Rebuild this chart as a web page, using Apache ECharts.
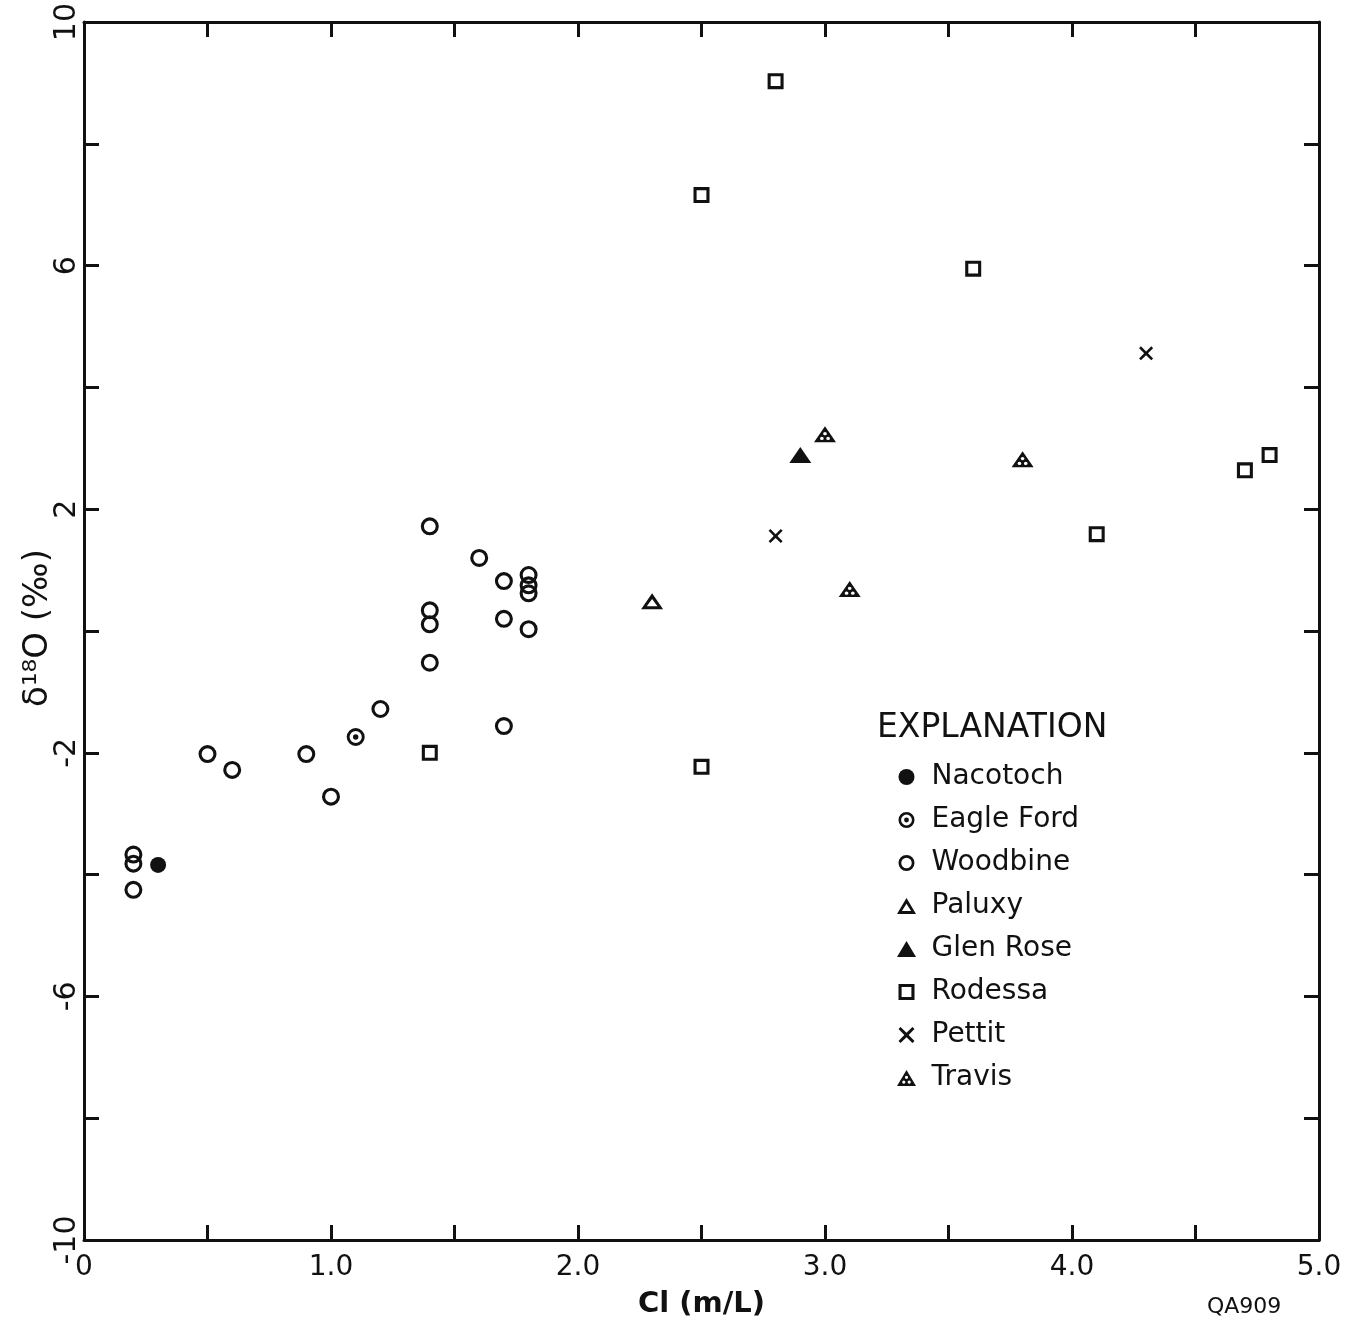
<!DOCTYPE html>
<html>
<head>
<meta charset="utf-8">
<script src="https://cdn.jsdelivr.net/npm/echarts@6/dist/echarts.min.js"></script>
<style>
html,body{margin:0;padding:0;background:#fff;}
#chart{width:1356px;height:1325px;}
</style>
</head>
<body>
<div id="chart"></div>
<script>
// ---- data (Cl in m/L, delta 18O in permil) ----
var nacotoch = [[0.3, -3.84]];
var eagleFord = [[1.1, -1.74]];
var woodbine = [[0.2, -3.67], [0.2, -3.82], [0.2, -4.25], [0.5, -2.02], [0.6, -2.28],
  [0.9, -2.02], [1.0, -2.72], [1.2, -1.28], [1.4, 1.72], [1.4, 0.34], [1.4, 0.11],
  [1.4, -0.52], [1.6, 1.2], [1.7, 0.82], [1.7, 0.2], [1.7, -1.56], [1.8, 0.92],
  [1.8, 0.75], [1.8, 0.62], [1.8, 0.03]];
var paluxy = [[2.3, 0.49]];
var glenRose = [[2.9, 2.89]];
var rodessa = [[1.4, -2.0], [2.5, -2.23], [2.5, 7.16], [2.8, 9.03], [3.6, 5.95],
  [4.1, 1.59], [4.7, 2.64], [4.8, 2.89]];
var pettit = [[2.8, 1.56], [4.3, 4.56]];
var travis = [[3.0, 3.23], [3.1, 0.69], [3.8, 2.82]];

var seriesNames = ['Nacotoch', 'Eagle Ford', 'Woodbine', 'Paluxy', 'Glen Rose', 'Rodessa', 'Pettit', 'Travis'];
var xTickLabels = {'0': '0', '1': '1.0', '2': '2.0', '3': '3.0', '4': '4.0', '5': '5.0'};
var yTickLabels = {'10': '10', '6': '6', '2': '2', '-2': '-2', '-6': '-6', '-10': '-10'};
var yTitle = 'δ¹⁸O (‰)';
var xTitle = 'Cl (m/L)';

var FONT = 'DejaVu Sans';
var INK = '#111';

function circ(r, cw, cx, cy) {
  cx = cx || 0; cy = cy || 0;
  return 'M' + cx + ',' + (cy - r) + 'A' + r + ',' + r + ',0,1,' + cw + ',' + cx + ',' + (cy + r) +
         'A' + r + ',' + r + ',0,1,' + cw + ',' + cx + ',' + (cy - r) + 'Z';
}
var solidCircle = 'path://' + circ(8, 1);
var ringCircle = 'path://' + circ(9, 1) + circ(5.9, 0);
var dotCircle = 'path://' + circ(9, 1) + circ(6.1, 0) + circ(2.7, 1);
var ringSquare = 'path://M-8,-8L8,-8L8,8L-8,8ZM-4.9,-4.9L-4.9,4.9L4.9,4.9L4.9,-4.9Z';
var ringTri = 'path://M0,-9L9.5,7L-9.5,7ZM0,-3.2L-4.6,4.1L4.6,4.1Z';
var solidTri = 'path://M0,-9L9.5,7L-9.5,7Z';
var travisTri = 'path://M0,-9L9.5,7L-9.5,7Z' + circ(1.6, 0, 0, -1.7) + circ(1.6, 0, -2.7, 3.1) + circ(1.6, 0, 2.7, 3.1);
var crossX = 'path://M-5.2,-7L0,-1.9L5.2,-7L7,-5.2L1.9,0L7,5.2L5.2,7L0,1.9L-5.2,7L-7,5.2L-1.9,0L-7,-5.2Z';

function sc(name, data, symbol, size) {
  return {
    name: name, type: 'scatter', data: data, symbol: symbol, symbolSize: size,
    symbolKeepAspect: true,
    itemStyle: {color: INK, opacity: 1},
    emphasis: {disabled: true},
    z: 5
  };
}

var chart = echarts.init(document.getElementById('chart'), null, {renderer: 'canvas'});
var axisLine = {show: true, onZero: false, lineStyle: {color: INK, width: 3}};
var axisTick = {show: true, inside: true, length: 15, lineStyle: {color: INK, width: 3}};

chart.setOption({
  animation: false,
  backgroundColor: '#fff',
  grid: {left: 84, right: 37, top: 18, bottom: 85, containLabel: false},
  xAxis: [{
    type: 'value', min: 0, max: 5, interval: 0.5, position: 'bottom',
    axisLine: axisLine, axisTick: axisTick, splitLine: {show: false},
    axisLabel: {
      show: true, showMinLabel: true, showMaxLabel: true, margin: 14,
      color: INK, fontFamily: FONT, fontSize: 28,
      formatter: function (v) { var k = String(Math.round(v * 10) / 10); return xTickLabels[k] || ''; }
    },
    name: xTitle, nameLocation: 'middle', nameGap: 50,
    nameTextStyle: {color: INK, fontFamily: FONT, fontSize: 29, fontWeight: 'bold'}
  }, {
    type: 'value', min: 0, max: 5, interval: 0.5, position: 'top',
    axisLine: axisLine, axisTick: axisTick, splitLine: {show: false},
    axisLabel: {show: false}
  }],
  yAxis: [{
    type: 'value', min: -10, max: 10, interval: 2, position: 'left',
    axisLine: axisLine, axisTick: axisTick, splitLine: {show: false},
    axisLabel: {
      show: true, showMinLabel: true, showMaxLabel: true, rotate: 90, margin: 2,
      color: INK, fontFamily: FONT, fontSize: 30,
      formatter: function (v) { return yTickLabels[String(Math.round(v))] || ''; }
    }
  }, {
    type: 'value', min: -10, max: 10, interval: 2, position: 'right',
    axisLine: axisLine, axisTick: axisTick, splitLine: {show: false},
    axisLabel: {show: false}
  }],
  legend: {
    data: seriesNames, orient: 'vertical', left: 892, top: 757,
    itemWidth: 32, itemHeight: 16, itemGap: 13, selectedMode: false,
    textStyle: {color: INK, fontFamily: FONT, fontSize: 28, lineHeight: 30, padding: [0, 0, 0, 4]}
  },
  graphic: [{
    type: 'text', x: 38, y: 628, rotation: Math.PI / 2,
    style: {text: yTitle, fill: INK, font: '34px "DejaVu Sans"', align: 'center', verticalAlign: 'middle'}
  }, {
    type: 'text', left: 877, top: 712,
    style: {text: 'EXPLANATION', fill: INK, font: '33px "DejaVu Sans"'}
  }, {
    type: 'text', left: 1207, top: 1296,
    style: {text: 'QA909', fill: INK, font: '22px "DejaVu Sans"'}
  }],
  series: [
    sc('Nacotoch', nacotoch, solidCircle, 16),
    sc('Eagle Ford', eagleFord, dotCircle, 18),
    sc('Woodbine', woodbine, ringCircle, 18),
    sc('Paluxy', paluxy, ringTri, [22, 19]),
    sc('Glen Rose', glenRose, solidTri, [22, 19]),
    sc('Rodessa', rodessa, ringSquare, 16),
    sc('Pettit', pettit, crossX, [14, 14]),
    sc('Travis', travis, travisTri, [22, 19])
  ]
});
</script>
</body>
</html>
